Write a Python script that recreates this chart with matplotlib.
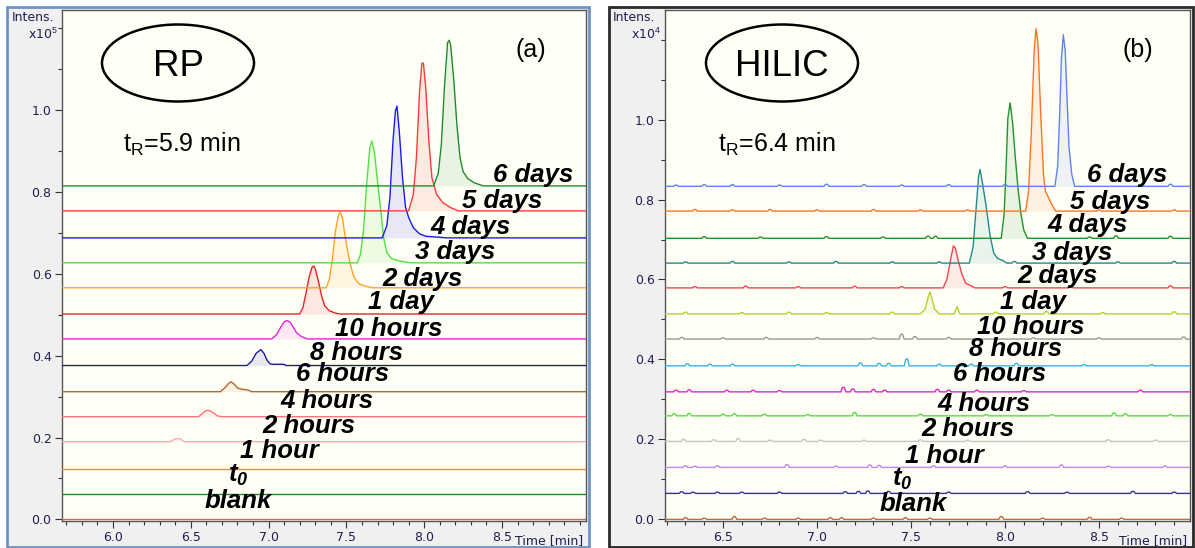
import matplotlib
matplotlib.use('Agg')
import matplotlib.pyplot as plt
from matplotlib.patches import Ellipse, Rectangle
from matplotlib.ticker import MultipleLocator, FixedLocator, FormatStrFormatter

plt.rcParams['font.family'] = ['Liberation Sans', 'DejaVu Sans']
plt.rcParams['mathtext.fontset'] = 'custom'
plt.rcParams['mathtext.rm'] = 'Liberation Sans'
plt.rcParams['mathtext.it'] = 'Liberation Sans:italic'
plt.rcParams['mathtext.bf'] = 'Liberation Sans:bold'
plt.rcParams['mathtext.bfit'] = 'Liberation Sans:italic:bold'

labels = ['blank', r'$\mathbfit{t}_\mathbfit{0}$', '1 hour', '2 hours', '4 hours', '6 hours',
          '8 hours', '10 hours', '1 day', '2 days', '3 days', '4 days', '5 days', '6 days']

# ---- RP (a), intensity x10^5 ----
rp_offsets = [0.0, 0.063, 0.124, 0.19, 0.251, 0.312, 0.376, 0.441, 0.502, 0.566, 0.627, 0.688, 0.754, 0.815]
rp_colors = ['#ee5a5a', '#238a23', '#ff8424', '#ffa6b4', '#ff707e', '#b5652e', '#1c1c9a',
             '#e024e0', '#e8222a', '#ffa424', '#52e042', '#1a1af0', '#ff3a3a', '#218a30']
rp_peaks = [
    [],
    [],
    [],
    [(6.37, 0), (6.40, 0.007), (6.43, 0.007), (6.46, 0)],
    [(6.55, 0), (6.58, 0.010), (6.60, 0.015), (6.62, 0.015), (6.65, 0.008), (6.67, 0.002), (6.70, 0)],
    [(6.69, 0), (6.72, 0.010), (6.745, 0.021), (6.76, 0.024), (6.78, 0.018), (6.80, 0.009),
     (6.83, 0.006), (6.87, 0.004), (6.89, 0)],
    [(6.86, 0), (6.89, 0.010), (6.92, 0.030), (6.95, 0.039), (6.97, 0.030), (6.99, 0.013),
     (7.01, 0.004), (7.03, 0.003), (7.10, 0.003), (7.11, 0)],
    [(7.02, 0), (7.05, 0.010), (7.08, 0.030), (7.10, 0.042), (7.12, 0.045), (7.14, 0.040),
     (7.16, 0.028), (7.18, 0.015), (7.21, 0.006), (7.25, 0)],
    [(7.20, 0), (7.22, 0.015), (7.24, 0.050), (7.26, 0.090), (7.28, 0.115), (7.29, 0.117),
     (7.30, 0.110), (7.32, 0.080), (7.34, 0.045), (7.36, 0.020), (7.39, 0.008), (7.43, 0.002), (7.46, 0)],
    [(7.37, 0), (7.39, 0.02), (7.41, 0.07), (7.43, 0.14), (7.45, 0.18), (7.46, 0.185), (7.475, 0.17),
     (7.49, 0.13), (7.51, 0.085), (7.53, 0.05), (7.55, 0.025), (7.58, 0.01), (7.62, 0.004), (7.67, 0)],
    [(7.57, 0), (7.59, 0.02), (7.61, 0.08), (7.63, 0.19), (7.65, 0.28), (7.663, 0.298), (7.68, 0.27),
     (7.70, 0.20), (7.72, 0.13), (7.74, 0.06), (7.76, 0.025), (7.79, 0.01), (7.85, 0.004), (7.91, 0)],
    [(7.73, 0), (7.76, 0.03), (7.78, 0.10), (7.80, 0.24), (7.815, 0.31), (7.825, 0.322), (7.84, 0.26),
     (7.86, 0.15), (7.88, 0.075), (7.90, 0.05), (7.93, 0.025), (7.97, 0.01), (8.01, 0.004),
     (8.08, 0.002), (8.15, 0)],
    [(7.90, 0), (7.93, 0.04), (7.95, 0.13), (7.97, 0.29), (7.985, 0.361), (7.995, 0.361), (8.01, 0.30),
     (8.03, 0.17), (8.05, 0.08), (8.08, 0.04), (8.12, 0.02), (8.17, 0.008), (8.22, 0)],
    [(8.06, 0), (8.09, 0.03), (8.11, 0.10), (8.13, 0.24), (8.15, 0.35), (8.16, 0.356), (8.17, 0.345),
     (8.19, 0.26), (8.21, 0.15), (8.23, 0.07), (8.25, 0.035), (8.28, 0.018), (8.32, 0.008), (8.38, 0)],
]
rp_lab_x = [6.591, 6.739, 6.816, 6.958, 7.073, 7.176, 7.266, 7.427, 7.639, 7.729, 7.941, 8.037, 8.243, 8.442]
rp_lab_y = [0.027, 0.093, 0.149, 0.212, 0.271, 0.337, 0.390, 0.449, 0.515, 0.571, 0.637, 0.698, 0.761, 0.824]

# ---- HILIC (b), intensity x10^4 ----
hil_offsets = [0.0, 0.065, 0.130, 0.195, 0.259, 0.319, 0.384, 0.451, 0.514, 0.579, 0.641, 0.703, 0.771, 0.833]
hil_colors = ['#c06a3a', '#3232a2', '#c284f0', '#c4c4c4', '#52e042', '#e022d2', '#32b2e8',
              '#949e94', '#b2d232', '#f04452', '#228a8a', '#22922c', '#ff7424', '#6282f0']
hil_peaks = [
    [], [], [], [], [], [], [], [],
    [(7.55, 0), (7.575, 0.012), (7.59, 0.04), (7.60, 0.055), (7.61, 0.04), (7.625, 0.012), (7.65, 0),
     (7.73, 0), (7.745, 0.018), (7.76, 0)],
    [(7.67, 0), (7.69, 0.02), (7.71, 0.07), (7.725, 0.105), (7.735, 0.10), (7.75, 0.07), (7.77, 0.035),
     (7.79, 0.012), (7.82, 0.005), (7.84, 0)],
    [(7.81, 0), (7.83, 0.04), (7.845, 0.13), (7.86, 0.22), (7.867, 0.234), (7.88, 0.20), (7.90, 0.14),
     (7.92, 0.07), (7.94, 0.025), (7.96, 0.012), (7.99, 0.006), (8.01, 0)],
    [(7.98, 0), (7.995, 0.06), (8.005, 0.17), (8.015, 0.30), (8.027, 0.339), (8.04, 0.29), (8.055, 0.20),
     (8.07, 0.12), (8.085, 0.06), (8.10, 0.02), (8.12, 0)],
    [(8.11, 0), (8.125, 0.05), (8.14, 0.20), (8.155, 0.40), (8.165, 0.456), (8.175, 0.42), (8.19, 0.24),
     (8.205, 0.09), (8.215, 0.05), (8.23, 0.035), (8.25, 0.015), (8.27, 0)],
    [(8.265, 0), (8.28, 0.05), (8.29, 0.17), (8.30, 0.32), (8.31, 0.379), (8.32, 0.34), (8.33, 0.22),
     (8.34, 0.10), (8.355, 0.03), (8.37, 0)],
]
hil_bumps = [
    [(6.30, 0.004), (6.40, 0.003), (6.56, 0.007), (6.72, 0.003), (6.90, 0.003), (7.07, 0.004), (7.13, 0.004),
     (7.30, 0.003), (7.47, 0.004), (7.60, 0.003), (7.98, 0.007), (8.20, 0.003), (8.45, 0.005), (8.62, 0.003)],
    [(6.28, 0.004), (6.34, 0.003), (6.47, 0.003), (6.60, 0.003), (6.80, 0.003), (7.15, 0.004), (7.22, 0.005),
     (7.27, 0.006), (7.38, 0.005), (7.70, 0.003), (8.12, 0.004), (8.33, 0.003), (8.68, 0.005), (8.90, 0.003)],
    [(6.30, 0.004), (6.35, 0.003), (6.47, 0.004), (6.84, 0.007), (7.10, 0.003), (7.28, 0.006), (7.33, 0.005),
     (7.62, 0.004), (8.00, 0.003), (8.30, 0.006), (8.55, 0.003), (8.85, 0.003)],
    [(6.29, 0.005), (6.45, 0.004), (6.58, 0.007), (6.75, 0.003), (6.93, 0.005), (7.02, 0.003), (7.25, 0.003),
     (7.55, 0.004), (7.80, 0.003), (8.55, 0.004), (8.80, 0.003)],
    [(6.24, 0.005), (6.32, 0.006), (6.50, 0.004), (6.56, 0.005), (6.72, 0.004), (6.95, 0.003), (7.20, 0.008),
     (7.55, 0.004), (7.90, 0.003), (8.25, 0.003), (8.58, 0.007), (8.64, 0.005), (8.88, 0.003)],
    [(6.25, 0.004), (6.32, 0.005), (6.52, 0.004), (6.66, 0.004), (6.80, 0.003), (7.14, 0.011), (7.19, 0.007),
     (7.30, 0.006), (7.36, 0.004), (7.64, 0.006), (7.70, 0.004), (7.85, 0.004), (8.10, 0.003), (8.72, 0.004)],
    [(6.31, 0.005), (6.43, 0.004), (6.55, 0.004), (6.90, 0.003), (7.23, 0.007), (7.33, 0.006), (7.38, 0.006),
     (7.477, 0.017), (7.65, 0.004), (7.82, 0.004), (8.06, 0.006), (8.42, 0.003), (8.78, 0.003)],
    [(6.28, 0.004), (6.50, 0.003), (6.73, 0.004), (7.00, 0.004), (7.30, 0.003), (7.45, 0.012), (7.52, 0.006),
     (7.70, 0.004), (8.15, 0.003), (8.50, 0.003), (8.95, 0.005)],
    [(6.30, 0.004), (6.60, 0.003), (6.85, 0.004), (7.05, 0.003), (7.40, 0.004), (7.95, 0.004), (8.22, 0.006),
     (8.52, 0.003), (8.90, 0.005)],
    [(6.35, 0.003), (6.62, 0.004), (6.90, 0.003), (7.20, 0.004), (7.45, 0.003), (8.00, 0.003), (8.35, 0.004),
     (8.88, 0.005)],
    [(6.30, 0.003), (6.55, 0.004), (6.85, 0.003), (7.10, 0.004), (7.40, 0.003), (7.65, 0.003), (8.05, 0.004),
     (8.60, 0.003), (8.90, 0.004)],
    [(6.40, 0.004), (6.70, 0.003), (7.05, 0.004), (7.35, 0.003), (7.59, 0.005), (7.63, 0.005), (8.45, 0.003),
     (8.59, 0.006), (8.88, 0.005)],
    [(6.35, 0.004), (6.55, 0.003), (6.75, 0.004), (7.00, 0.003), (7.30, 0.004), (7.55, 0.003), (7.80, 0.003),
     (8.50, 0.003), (8.90, 0.003)],
    [(6.25, 0.003), (6.40, 0.004), (6.55, 0.004), (6.80, 0.003), (7.05, 0.005), (7.25, 0.004), (7.45, 0.003),
     (7.70, 0.004), (8.00, 0.004), (8.88, 0.005)],
]
hil_lab_x = [7.335, 7.40, 7.468, 7.553, 7.638, 7.723, 7.809, 7.851, 7.973, 8.064, 8.144, 8.223, 8.346, 8.436]
hil_lab_y = [0.020, 0.085, 0.140, 0.209, 0.272, 0.347, 0.409, 0.464, 0.526, 0.592, 0.648, 0.718, 0.776, 0.843]

W, H = 1195, 548
fig = plt.figure(figsize=(W / 100, H / 100), dpi=100)
fig.patch.set_facecolor('white')


def px(x, y):
    return x / W, 1 - y / H


# panel frames
fig.add_artist(Rectangle(px(7, 547), 582 / W, 540 / H, transform=fig.transFigure,
                         facecolor='#f0f0f0', edgecolor='#6f95c8', lw=2, zorder=-2))
fig.add_artist(Rectangle(px(609, 547), 584 / W, 540 / H, transform=fig.transFigure,
                         facecolor='#f0f0f0', edgecolor='#2a2a2a', lw=2, zorder=-2))


def build(xmin, xmax, peak, bumps):
    pts = [(xmin, 0.0), (xmax, 0.0)] + list(peak)
    for t, h in bumps:
        if peak and peak[0][0] - 0.02 < t < peak[-1][0] + 0.02:
            continue
        pts += [(t - 0.013, 0.0), (t - 0.005, h), (t + 0.005, h), (t + 0.013, 0.0)]
    pts.sort()
    return [p[0] for p in pts], [p[1] for p in pts]


def panel(rect, xlim, ylim, offsets, colors, peaks, bumps, lab_x, lab_y):
    ax = fig.add_axes(rect)
    ax.set_facecolor('#fffff6')
    ax.set_xlim(*xlim)
    ax.set_ylim(*ylim)
    for i in range(len(offsets)):
        base = offsets[i]
        xs, ys = build(xlim[0], xlim[1], peaks[i], bumps[i] if bumps else [])
        ax.plot(xs, [base + v for v in ys], color=colors[i], lw=1.0, zorder=3 + i * 0.01)
        if peaks[i]:
            pxs = [p[0] for p in peaks[i]]
            pys = [base + p[1] for p in peaks[i]]
            ax.fill_between(pxs, base, pys, color=colors[i], alpha=0.1, lw=0, zorder=2)
        ax.text(lab_x[i], lab_y[i], labels[i], fontsize=18.5, fontweight='bold', style='italic',
                ha='left', va='baseline', color='black', zorder=10)
    ax.xaxis.set_major_locator(FixedLocator([6.0, 6.5, 7.0, 7.5, 8.0, 8.5]))
    ax.xaxis.set_minor_locator(MultipleLocator(0.1))
    ax.yaxis.set_major_locator(FixedLocator([0.0, 0.2, 0.4, 0.6, 0.8, 1.0]))
    ax.yaxis.set_minor_locator(MultipleLocator(0.1))
    ax.xaxis.set_major_formatter(FormatStrFormatter('%.1f'))
    ax.yaxis.set_major_formatter(FormatStrFormatter('%.1f'))
    ax.tick_params(which='major', length=5, width=0.8, color='#333333', labelsize=9,
                   labelcolor='#1e2050', pad=2.5)
    ax.tick_params(which='minor', length=3, width=0.8, color='#333333')
    for s in ax.spines.values():
        s.set_color('#555555')
        s.set_linewidth(1.0)
    ax.annotate('Time [min]', xy=(1, 0), xycoords='axes fraction', xytext=(-2, -9.2),
                textcoords='offset points', ha='right', va='top', fontsize=9,
                family='DejaVu Sans', color='#1e2050')
    return ax


ax1 = panel([62 / W, 27 / H, 524 / W, 511 / H], (5.672, 9.04), (-0.004, 1.245),
            rp_offsets, rp_colors, rp_peaks, None, rp_lab_x, rp_lab_y)
ax2 = panel([665 / W, 27 / H, 525 / W, 511 / H], (6.191, 8.984), (-0.004, 1.274),
            hil_offsets, hil_colors, hil_peaks, hil_bumps, hil_lab_x, hil_lab_y)
for ax in (ax1, ax2):
    for lab in ax.get_xticklabels() + ax.get_yticklabels():
        lab.set_family('DejaVu Sans')

# corner intensity labels
for x0, x1, exp in [(12, 58, '5'), (613, 661, '4')]:
    fig.text(*px(x0, 11), 'Intens.', fontsize=9, family='DejaVu Sans', color='#1e2050',
             ha='left', va='top', zorder=20)
    fig.text(*px(x1, 27), 'x10$^{%s}$' % exp, fontsize=9, family='DejaVu Sans', color='#1e2050',
             ha='right', va='top', zorder=20)

# ellipses with method name
for cx, name in [(178, 'RP'), (782, 'HILIC')]:
    fig.add_artist(Ellipse(px(cx, 63), 152 / W, 77 / H, transform=fig.transFigure,
                           fill=False, edgecolor='black', lw=1.8, zorder=5))
    fig.text(*px(cx, 76), name, fontsize=26.5, ha='center', va='baseline')

fig.text(*px(123, 152), r't$_\mathrm{R}$=5.9 min', fontsize=18, ha='left', va='baseline')
fig.text(*px(718, 152), r't$_\mathrm{R}$=6.4 min', fontsize=18, ha='left', va='baseline')
fig.text(*px(531, 57), '(a)', fontsize=18, ha='center', va='baseline')
fig.text(*px(1138, 57), '(b)', fontsize=18, ha='center', va='baseline')

fig.savefig('out.png', dpi=100)
